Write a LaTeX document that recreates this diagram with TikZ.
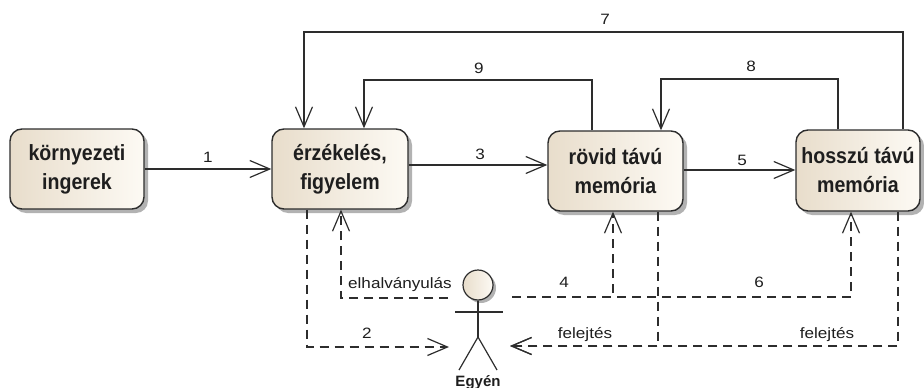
\documentclass[tikz,border=0pt]{standalone}
\usepackage{fontspec}
\setmainfont{Liberation Sans}
\newfontfamily\boxfont{Liberation Sans}[FakeStretch=0.89]
\newfontfamily\lblfont{Liberation Sans}[FakeStretch=1.14]
\usetikzlibrary{arrows.meta,shadows}
\definecolor{boxl}{RGB}{232,221,203}
\definecolor{boxr}{RGB}{253,250,244}
\definecolor{ln}{RGB}{45,45,45}
\definecolor{txt}{RGB}{30,30,30}
\begin{document}
\begin{tikzpicture}[x=1pt,y=-1pt,
  proc/.style={draw=ln, line width=1.4pt, rounded corners=12pt, left color=boxl, right color=boxr,
    drop shadow={shadow xshift=4pt,shadow yshift=-4pt,fill=black,opacity=0.3},
    font={\boxfont\bfseries\fontsize{22}{29}\selectfont}, align=center, text=txt, inner sep=0pt},
  conn/.style={draw=ln, line width=1.2pt, -{Straight Barb[length=20pt,width=17pt,line width=1.2pt]}},
  dconn/.style={conn, dash pattern=on 9pt off 6pt},
  lbl/.style={font={\lblfont\fontsize{15}{18}\selectfont}, text=txt, inner sep=0pt, anchor=base},
  stick/.style={draw=ln, line width=1.2pt}
]
\useasboundingbox (0,0) rectangle (924,388);

% process boxes
\node[proc, minimum width=134pt, minimum height=80pt] (A) at (77,169) {környezeti\\ingerek};
\node[proc, minimum width=136pt, minimum height=80pt] (B) at (340,169) {érzékelés,\\figyelem};
\node[proc, minimum width=135pt, minimum height=80pt] (C) at (615.5,171) {rövid távú\\memória};
\node[proc, minimum width=124pt, minimum height=81pt] (D) at (858,170.5) {hosszú távú\\memória};

% actor
\node[circle, draw=ln, line width=1.2pt, left color=boxl, right color=boxr, minimum size=30pt, inner sep=0pt,
  drop shadow={shadow xshift=3pt,shadow yshift=-3pt,fill=black,opacity=0.3}] (head) at (478,285) {};
\coordinate (hip) at (478,337);
\coordinate (armL) at (455,312);
\coordinate (armR) at (503,312);
\coordinate (footL) at (459,370);
\coordinate (footR) at (497,370);
\draw[stick] (head.south) -- (hip);
\draw[stick] (armL) -- (armR);
\draw[stick] (footL) -- (hip) -- (footR);
\node[font={\bfseries\fontsize{15}{18}\selectfont}, text=txt, inner sep=0pt, anchor=base] (egyen) at (478,386) {Egyén};

% actor anchor points
\coordinate (actL) at (448,298);
\coordinate (actR) at (512,297);
\coordinate (act2) at (449,347);
\coordinate (actF) at (510,346);

% solid connectors
\draw[conn] (A.east |- 0,169) -- (B.west |- 0,169);
\draw[conn] (B.east |- 0,165) -- (C.west |- 0,165);
\draw[conn] (C.east |- 0,170) -- (D.west |- 0,170);
\draw[conn] (D.north -| 903,0) |- (304,32) -- (B.north -| 304,0);
\draw[conn] (C.north -| 592,0) |- (364,80) -- (B.north -| 364,0);
\draw[conn] (D.north -| 838,0) |- (661,79) -- (C.north -| 661,0);

% dashed connectors
\draw[dconn] (B.south -| 307,0) |- (act2);
\draw[dconn] (actL) -| (B.south -| 341,0);
\draw[dconn] (actR) -| (C.south -| 613,0);
\draw[dconn] (actR) -| (D.south -| 851,0);
\draw[dconn] (C.south -| 658,0) |- (actF);
\draw[dconn] (D.south -| 898,0) |- (actF);

% labels
\node[lbl] (l1) at (208,162) {1};
\node[lbl] (l3) at (480,159) {3};
\node[lbl] (l5) at (742,165) {5};
\node[lbl] (l7) at (605,24) {7};
\node[lbl] (l9) at (479,73) {9};
\node[lbl] (l8) at (751,71) {8};
\node[lbl] (lelh) at (400,288) {elhalványulás};
\node[lbl] (l4) at (564,287) {4};
\node[lbl] (l6) at (759,287) {6};
\node[lbl] (l2) at (367,338) {2};
\node[lbl] (lf1) at (585,338) {felejtés};
\node[lbl] (lf2) at (827,338) {felejtés};
\end{tikzpicture}
\end{document}
